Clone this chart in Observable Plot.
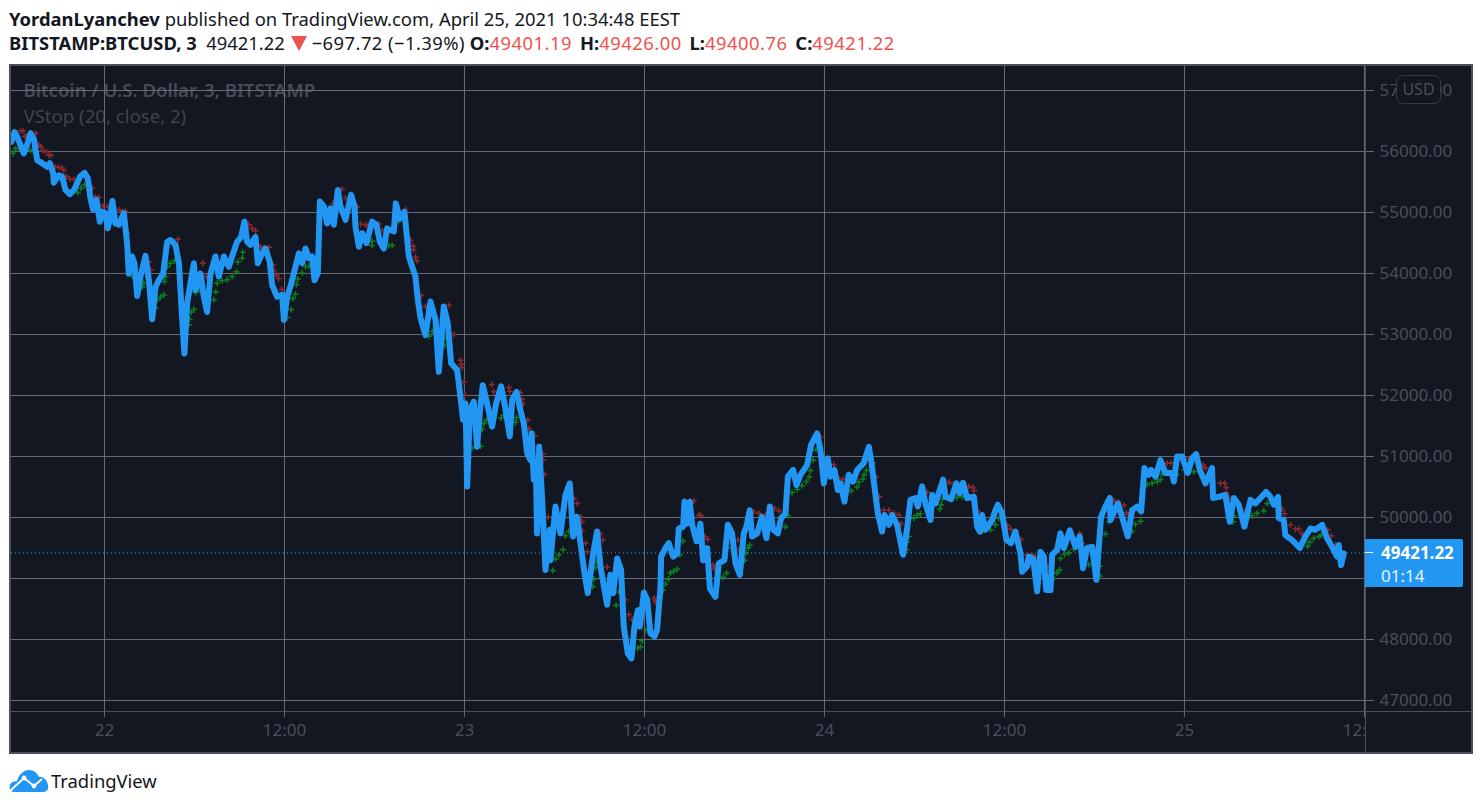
<!DOCTYPE html>
<html>
<head>
<meta charset="utf-8">
<script src="https://cdn.jsdelivr.net/npm/d3@7"></script>
<script src="https://cdn.jsdelivr.net/npm/@observablehq/plot@0.6"></script>
<style>
html,body{margin:0;padding:0;background:#fff;width:1481px;height:808px;overflow:hidden}
body{position:relative;font-family:"Noto Sans","Open Sans",sans-serif;color:#131722}
.hd{position:absolute;left:9px;white-space:nowrap;font-size:18.4px;line-height:24px}
.hd b{font-weight:700}
.r{color:#ef5350;letter-spacing:.5px;margin-right:3px}
.ch{letter-spacing:.45px}
.tri{display:inline-block;width:0;height:0;border-left:8px solid transparent;border-right:8px solid transparent;border-top:15px solid #ef5350;margin:0 5px 0 1px;vertical-align:-1px}
#chart{position:absolute;left:9px;top:64px}
#chart svg{display:block}
.ov{position:absolute;box-sizing:border-box}
</style>
</head>
<body>
<div class="hd" style="top:7px"><b>YordanLyanchev</b> published on TradingView.com, April 25, 2021 10:34:48 EEST</div>
<div class="hd" style="top:31px"><b>BITSTAMP:BTCUSD, 3</b>&nbsp; 49421.22 <span class="tri"></span><span class="ch">−697.72 (−1.39%)</span> <b>O:</b><span class="r">49401.19</span> <b>H:</b><span class="r">49426.00</span> <b>L:</b><span class="r">49400.76</span> <b>C:</b><span class="r">49421.22</span></div>
<div id="chart"></div>
<svg class="ov" style="left:9px;top:769px" width="40" height="24" viewBox="0 0 40 24">
  <path d="M5 23C1 23 0 19 1 16C2 13 5 12 8 12C10 5 15 1 20 1C25 1 28 4 30 8C34 7 38 11 39 16C40 20 38 23 34 23Z" fill="#2196f3"/>
  <path d="M1 22L15 9L25 17L33 10" fill="none" stroke="#fff" stroke-width="1.8"/>
  <circle cx="15" cy="9" r="2.4" fill="#fff"/><circle cx="25" cy="17" r="2.4" fill="#fff"/>
</svg>
<div class="ov" style="left:51px;top:768px;font-size:18.4px;line-height:26px">TradingView</div>
<script>
// Hours relative to 2021-04-22 00:00 and BTCUSD close for the blue line
const closeHours = [-6.20,-6.00,-5.82,-5.64,-5.38,-5.16,-4.93,-4.71,-4.49,-4.16,-3.82,-3.64,-3.42,-3.38,-3.04,-2.82,-2.60,-2.31,-2.04,-1.82,-1.64,-1.33,-1.11,-0.93,-0.76,-0.53,-0.31,-0.16,0.07,0.22,0.36,0.53,0.73,0.96,1.29,1.51,1.62,1.84,2.00,2.18,2.40,2.73,2.96,3.18,3.40,3.62,3.91,4.18,4.40,4.73,4.96,5.18,5.33,5.51,5.73,5.96,6.07,6.40,6.62,6.84,7.07,7.40,7.62,7.96,8.29,8.51,8.84,9.11,9.33,
9.51,9.73,10.07,10.22,10.51,10.73,11.02,11.18,11.51,11.84,11.96,12.18,12.40,12.62,12.96,13.18,13.40,13.62,13.84,14.00,14.22,14.36,14.62,14.84,15.07,15.29,15.56,15.73,16.07,16.44,16.67,16.73,16.96,17.18,17.47,17.84,18.13,18.36,18.62,18.84,19.29,19.42,19.69,20.00,20.29,20.73,20.89,21.07,21.40,21.73,22.07,22.29,22.62,22.89,23.11,23.51,23.73,23.91,24.07,24.18,24.36,24.62,24.84,25.02,
25.22,25.51,25.84,26.11,26.44,26.67,27.02,27.18,27.47,27.73,27.96,28.18,28.40,28.47,28.62,28.76,28.84,28.98,29.18,29.40,29.69,29.73,30.07,30.40,30.73,31.02,31.24,31.51,31.73,32.00,32.22,32.62,32.84,33.07,33.51,33.73,33.91,34.18,34.44,34.62,34.89,35.13,35.33,35.56,35.69,35.96,36.18,36.40,
36.67,36.84,37.07,37.11,37.40,37.62,37.91,38.18,38.29,38.58,38.67,38.84,39.02,39.18,39.47,39.73,39.91,40.18,40.36,40.73,40.96,41.33,41.56,41.84,42.07,42.36,42.62,42.80,43.02,43.18,43.51,43.84,44.13,44.36,44.58,44.89,45.11,45.40,45.56,45.91,46.13,46.40,46.84,47.11,47.51,47.73,47.96,48.22,48.40,48.67,48.89,49.07,49.33,49.62,49.91,50.18,50.62,50.96,51.11,51.33,51.56,51.84,
52.00,52.29,52.51,52.84,53.24,53.51,53.73,54.07,54.22,54.51,54.73,55.07,55.18,55.40,55.62,55.91,56.07,56.44,56.80,57.02,57.24,57.51,57.96,58.18,58.36,58.51,58.73,59.18,59.40,59.56,59.84,60.13,60.44,60.73,61.07,61.18,61.51,61.62,61.91,62.18,62.40,62.62,62.78,63.07,63.18,63.51,63.73,63.96,64.36,64.73,65.02,65.24,65.51,65.84,66.13,66.44,66.73,67.02,
67.07,67.56,67.84,68.22,68.51,68.84,69.11,69.33,69.62,69.78,70.07,70.40,70.73,71.18,71.29,71.51,71.84,72.22,72.51,72.78,73.02,73.40,73.84,73.91,74.29,74.73,75.02,75.29,75.62,76.00,76.40,76.73,77.07,77.44,77.73,77.96,78.24,78.29,78.62,78.73,79.18,79.69,80.07,80.40,80.73,81.18,81.51,81.84,82.18,82.29,82.44,82.62];
const closePrices = [56160,56320,56240,56130,55970,56110,56300,56210,55860,55810,55750,55810,55640,55490,55610,55590,55370,55300,55370,55480,55590,55650,55560,55230,55050,55210,54850,55010,54990,54740,54900,55190,54820,54800,54990,54490,54000,54280,54170,53630,53950,54290,53890,53250,53780,53890,54000,54520,54550,54470,54170,53240,52690,53510,53840,54170,53730,54000,53620,53370,54000,54280,53950,54280,54110,54280,54520,54600,54850,
54520,54470,54600,54170,54330,54410,54190,53810,53620,53650,53240,53620,53790,54000,54330,54170,54410,54250,54280,53890,54000,55180,55100,54820,55070,54800,55370,55100,54880,55290,55100,54770,54440,54660,54500,54850,54800,54520,54410,54740,54690,55150,54900,55010,54280,53950,53570,53270,52990,53540,53240,52390,53460,53180,52530,52420,51980,51600,51870,50510,51760,51900,51160,51710,
52170,51870,51490,51870,52150,51870,51330,51930,52060,51760,51540,51050,50940,51380,50620,50830,49740,51160,50290,49140,49800,49300,50180,49740,50370,50560,49690,50010,49580,49090,48760,49470,49770,49190,48570,49060,48760,49330,49140,48210,47770,47690,48210,48480,48210,48770,48650,48100,
48050,48160,48870,49360,49500,49580,49360,49410,49820,49850,50260,49900,50260,49880,49610,49900,49300,49500,48840,48700,49250,49300,49880,49740,49250,49060,49740,49850,50120,49690,49740,50010,49660,50180,49800,49740,49990,50070,50670,50780,50530,50700,50860,51190,51380,51110,50560,50970,50670,50780,50450,50560,50260,50700,50590,50780,50890,51160,50940,50510,50070,49770,
50040,49880,50040,49880,49390,49820,50290,50320,50180,50510,50230,49960,50370,50230,50400,50620,50340,50300,50560,50400,50570,50320,50340,49850,49770,50040,49800,49960,50120,50210,50070,49630,49580,49770,49410,49110,49200,49360,49330,48790,49440,49360,48810,48810,49390,49470,49740,49500,49790,49520,49690,49170,49500,49520,48980,50010,50180,50320,
49960,50230,50010,49690,50120,50180,50100,50810,50700,50780,50670,50940,50730,50730,50590,51000,51000,50730,50970,51040,50780,50560,50810,50320,50340,50370,49930,50320,50210,49850,50290,50230,50320,50420,50340,50210,50340,49990,49960,49710,49630,49500,49690,49820,49800,49880,49660,49520,49360,49550,49220,49410];

// Volatility stop, downtrend (red) points above the line
const stopDownHours = [-5.60,-5.44,-5.33,-5.20,-4.58,-4.38,-4.22,-4.09,-3.87,-3.71,-3.56,-3.27,-3.04,-2.82,-2.71,-2.53,-2.31,-2.04,-0.82,-0.60,-0.38,-0.09,0.22,0.96,1.18,1.40,1.51,2.96,3.07,4.89,6.56,6.78,9.62,9.84,10.07,10.40,10.62,10.96,11.24,11.29,11.47,11.62,11.80,15.24,15.84,16.07,16.84,17.07,17.40,17.56,18.29,18.51,20.07,20.40,20.58,20.62,20.73,20.84,21.11,21.40,22.96,23.29,23.73,23.78,23.84,23.96,24.02,25.82,25.96,26.96,27.02,27.73,27.82,27.91,28.22,28.29,28.67,29.22,29.24,29.33,29.58,31.29,31.51,31.78,31.84,31.84,32.07,32.18,33.07,33.22,33.51,34.73,34.96,35.18,36.64,36.73,36.91,38.69,39.07,39.29,39.62,39.78,40.02,40.22,40.58,40.67,42.24,42.29,43.29,43.62,44.07,44.67,44.96,47.73,48.62,48.96,49.24,51.24,51.44,51.67,51.96,52.29,52.62,52.96,53.11,54.84,56.29,56.58,57.62,57.91,57.96,58.22,60.18,60.40,61.11,61.51,61.84,62.07,62.84,65.02,65.18,65.29,66.02,66.07,67.29,67.62,67.96,68.13,68.29,70.84,71.11,72.29,73.24,73.40,74.40,74.67,74.78,74.80,74.96,76.07,78.51,78.67,79.07,79.40,79.62,79.84,81.56,81.78,82.07];
const stopDownPrices = [56340,56340,56250,56250,56300,56110,56080,56010,56000,55940,55940,55750,55740,55730,55690,55590,55550,55540,55400,55260,55250,55110,55100,55040,55020,55020,54660,54190,54060,54560,54170,53950,54800,54740,54700,54440,54420,54430,54140,54050,53970,53920,53740,55150,55380,55240,55090,54810,54800,54780,54810,54710,55050,54550,54450,54390,54270,54210,53640,53460,53480,53000,52580,52510,52460,52220,52010,52180,52060,52130,52070,52050,51940,51860,51600,51460,51340,51040,50940,50710,50010,50310,50230,50010,49930,49780,49580,49440,49730,49630,49190,48650,48410,48330,48680,48620,48570,50270,50270,50270,50040,50030,49690,49640,49220,49160,49630,49480,50090,50070,50040,50150,50110,51320,50860,50640,50630,50900,50660,50340,50120,50120,50070,50040,49900,50420,50580,50550,50510,50490,50440,50100,49870,49810,49640,49390,49390,49350,49200,49740,49580,49470,49480,49390,50280,50250,50200,50080,50040,50890,50890,50960,50860,50810,50560,50560,50490,50410,50320,50120,50140,50060,49880,49810,49810,49740,49800,49700,49550];

// Volatility stop, uptrend (green) points below the line
const stopUpHours = [-6.09,-5.93,-5.71,-4.93,-4.76,-1.78,-1.56,-1.33,1.84,2.62,2.51,3.40,3.51,3.73,3.96,4.00,4.07,4.18,4.40,4.67,5.67,5.62,5.78,5.96,6.07,6.29,7.29,7.42,7.51,7.84,8.18,8.51,8.80,8.89,9.18,9.22,12.18,12.44,12.56,12.73,12.80,12.89,13.18,13.40,13.62,17.84,17.82,18.96,19.18,19.56,21.62,21.84,22.67,22.67,24.51,25.07,25.18,25.29,25.47,26.44,26.62,27.40,27.47,29.89,30.07,30.29,30.58,30.73,30.96,32.62,32.56,32.73,32.84,34.11,34.29,35.56,35.73,35.84,36.07,36.29,37.24,37.40,37.60,37.73,37.96,38.18,38.36,38.56,41.24,41.47,41.80,42.69,42.78,42.91,43.02,45.40,45.56,45.84,46.18,46.51,46.80,46.98,47.07,47.24,47.44,49.78,50.18,50.29,50.56,50.64,50.80,53.62,53.51,53.47,53.96,54.18,54.40,55.69,55.78,55.87,56.84,57.18,57.56,58.51,59.07,59.40,59.62,62.40,63.07,63.29,63.51,63.67,63.73,64.00,64.29,64.62,65.62,66.36,66.36,66.73,66.96,68.51,68.73,69.07,69.51,69.84,70.18,70.40,70.51,71.47,72.00,72.62,75.29,75.24,76.51,76.84,77.29,77.51,80.22,80.36,80.62,80.96,81.11];
const stopUpPrices = [55970,56050,56050,56020,56020,55330,55400,55450,53960,53840,53780,53430,53570,53610,53650,53870,53950,54110,54170,54210,53250,53160,53370,53410,53690,53730,53570,53700,53840,53880,53900,53950,54030,54190,54250,54350,53280,53410,53590,53660,53820,53910,54010,54110,54120,54530,54460,54460,54460,54850,52970,53050,52940,52820,51140,51170,51450,51540,51600,51630,51680,51560,51640,49130,49320,49390,49470,49700,49770,48990,48870,49180,49270,48560,48780,47860,47880,47980,48150,48150,48810,48910,48990,49090,49120,49150,49390,49610,49020,49090,49500,49300,49420,49500,49550,49850,50030,50410,50460,50520,50590,50670,50770,50940,51110,50440,50500,50580,50630,50700,50770,49690,49600,49470,49990,50040,50060,50140,50210,50300,50330,50340,50340,49770,49800,49880,49990,49090,48870,49000,49090,49140,49330,49400,49420,49480,49230,49040,49200,49730,49930,49770,49890,49940,50540,50560,50590,50620,50710,50700,50780,50750,50030,49930,50030,50070,50110,50230,49530,49600,49660,49690,49710];

const priceTicks = [47000,48000,49000,50000,51000,52000,53000,54000,55000,56000,57000];
const timeTickHours = [0,12,24,36,48,60,72,84];
const timeTickLabels = ["22","12:00","23","12:00","24","12:00","25","12:00"];
const lastPrice = 49421.22;
const countdown = "01:14";
const priceDomain = [46820,57394];
const hourDomain = [-6.2,84.07];

const ORIGIN = Date.UTC(2021,3,22);
const toDate = h => new Date(ORIGIN + h*3600e3);
const closeRows = closeHours.map((h,i)=>({t:toDate(h),p:closePrices[i]}));
const downRows = stopDownHours.map((h,i)=>({t:toDate(h),p:stopDownPrices[i]}));
const upRows = stopUpHours.map((h,i)=>({t:toDate(h),p:stopUpPrices[i]}));
const tickDates = timeTickHours.map(toDate);
const labelOf = new Map(tickDates.map((d,i)=>[+d,timeTickLabels[i]]));

const GRID="#696b75", TXT="#4a4e5a", EDGE="#4d505b", BG="#131722", BLUE="#2196f3";
const chart = Plot.plot({
  width:1464, height:690,
  marginLeft:2, marginRight:108, marginTop:2, marginBottom:43,
  style:{background:BG, fontFamily:'"Noto Sans","Open Sans",sans-serif', fontSize:"17px"},
  x:{type:"utc", domain:hourDomain.map(toDate)},
  y:{domain:priceDomain},
  marks:[
    Plot.text(["Bitcoin / U.S. Dollar, 3, BITSTAMP"],{frameAnchor:"top-left",dx:12,dy:17,fill:"#474b57",fontSize:18.6,fontWeight:600,textAnchor:"start"}),
    Plot.text(["VStop (20, close, 2)"],{frameAnchor:"top-left",dx:12,dy:43,fill:"#3f434f",fontSize:18.6,textAnchor:"start"}),
    Plot.gridY(priceTicks,{stroke:GRID,strokeOpacity:1,strokeWidth:1}),
    Plot.gridX(tickDates,{stroke:GRID,strokeOpacity:1,strokeWidth:1}),
    Plot.axisY({anchor:"right",ticks:priceTicks,tickFormat:d3.format(".2f"),tickSize:8,tickPadding:6,label:null,stroke:GRID,fill:TXT,fontSize:17}),
    Plot.axisX({ticks:tickDates,tickFormat:d=>labelOf.get(+d),tickSize:6,tickPadding:6,label:null,stroke:GRID,fill:TXT,fontSize:17}),
    Plot.ruleY([lastPrice],{stroke:BLUE,strokeWidth:1,strokeDasharray:"1 3"}),
    Plot.dot(downRows,{x:"t",y:"p",symbol:"plus",r:2.1,stroke:"#8a2a2e",strokeWidth:1.5,clip:"frame"}),
    Plot.dot(upRows,{x:"t",y:"p",symbol:"plus",r:2.1,stroke:"#0b8020",strokeWidth:1.5,clip:"frame"}),
    Plot.line(closeRows,{x:"t",y:"p",stroke:BLUE,strokeWidth:6,strokeLinejoin:"round",strokeLinecap:"round",clip:"frame"})
  ]
});
const host=document.getElementById("chart");
host.appendChild(chart);

function ov(css,html){const d=document.createElement("div");d.className="ov";d.style.cssText=css;if(html)d.innerHTML=html;document.body.appendChild(d);return d;}
const tagY = 64 + chart.scale("y").apply(lastPrice);
// axis-area cover, dividers and frame
ov(`left:1366px;top:712px;width:105px;height:40px;background:${BG}`);
ov(`left:11px;top:710.5px;width:1460px;height:1px;background:${EDGE}`);
ov(`left:1364.5px;top:66px;width:1.5px;height:687px;background:${EDGE}`);
ov(`left:9px;top:64px;width:1463.5px;height:690px;border:2px solid ${EDGE}`);
// last-price tag
ov(`left:1365px;top:${tagY-13}px;width:98px;height:48px;background:${BLUE};border-radius:0 2px 2px 0;color:#fff;padding:2px 0 0 16px;font-size:17px;line-height:23px`,
   `<div style="font-weight:700">${d3.format(".2f")(lastPrice)}</div><div style="opacity:.9">${countdown}</div>`);
ov(`left:1365px;top:${tagY-0.5}px;width:8px;height:1px;background:#fff`);
// currency button
ov(`left:1396px;top:75px;width:45px;height:29px;border:1px solid #363a45;border-radius:7px;background:${BG};color:${TXT};font-size:16px;line-height:27px;text-align:center`,"USD");
</script>
</body>
</html>
